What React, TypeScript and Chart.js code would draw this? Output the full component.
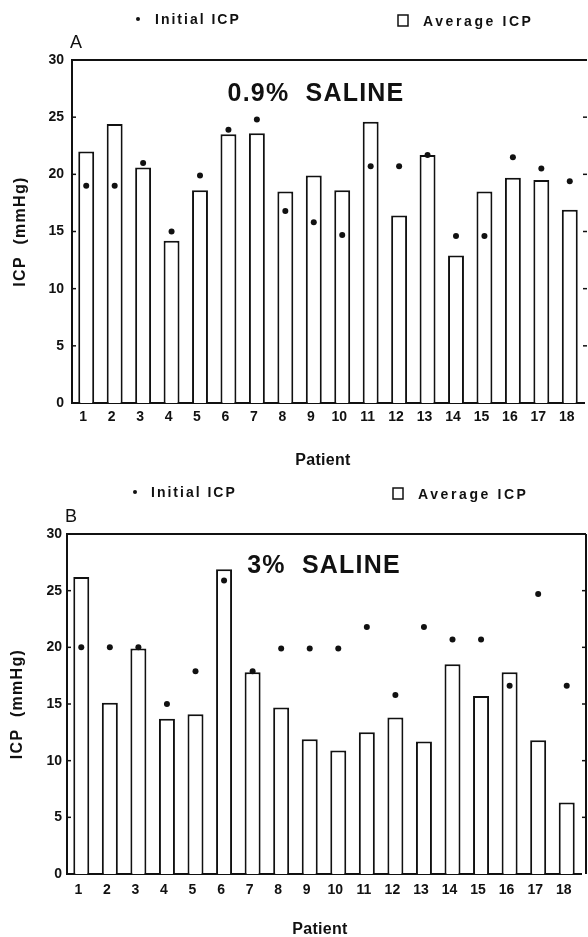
import React, { useEffect, useRef } from "react";
import { Chart, registerables } from "chart.js";

Chart.register(...registerables);

const patients = ["1", "2", "3", "4", "5", "6", "7", "8", "9", "10", "11", "12", "13", "14", "15", "16", "17", "18"];

// Panel A: 0.9% saline
const salineAverage = [22, 24.4, 20.6, 14.2, 18.6, 23.5, 23.6, 18.5, 19.9, 18.6, 24.6, 16.4, 21.7, 12.9, 18.5, 19.7, 19.5, 16.9];
const salineInitial = [19, 19, 21, 15, 19.9, 23.9, 24.8, 16.8, 15.8, 14.7, 20.7, 20.7, 21.7, 14.6, 14.6, 21.5, 20.5, 19.4];

// Panel B: 3% saline
const hypertonicAverage = [26.2, 15.1, 19.9, 13.7, 14.1, 26.9, 17.8, 14.7, 11.9, 10.9, 12.5, 13.8, 11.7, 18.5, 15.7, 17.8, 11.8, 6.3];
const hypertonicInitial = [20, 20, 20, 15, 17.9, 25.9, 17.9, 19.9, 19.9, 19.9, 21.8, 15.8, 21.8, 20.7, 20.7, 16.6, 24.7, 16.6];

const yMin = 0;
const yMax = 30;
const yStep = 5;

const xTitle = "Patient";
const yTitle = "ICP  (mmHg)";
const legendInitial = "Initial ICP";
const legendAverage = "Average ICP";

const FONT = "'Liberation Sans', Arial, Helvetica, sans-serif";
const INK = "#111";

type PanelCfg = {
  letter: string;
  title: string;
  average: number[];
  initial: number[];
  height: number;
  padTop: number;
  yWidth: number;
  xHeight: number;
  padRight: number;
  titleX: number;
  titleY: number;
  letterX: number;
  letterY: number;
  dotX: number;
  legendY: number;
  initTextX: number;
  boxX: number;
  avgTextX: number;
  rightBorder: boolean;
  frameRight: number;
  xTickPad: number;
  yTickPad: number;
  xTitleX: number;
  xTitleY: number;
  yTitleX: number;
};

const panelA: PanelCfg = {
  letter: "A",
  title: "0.9%  SALINE",
  average: salineAverage,
  initial: salineInitial,
  height: 470,
  padTop: 60,
  yWidth: 72,
  xHeight: 67,
  padRight: 1,
  titleX: 316,
  titleY: 101,
  letterX: 70,
  letterY: 48,
  dotX: 138,
  legendY: 19,
  initTextX: 155,
  boxX: 398,
  avgTextX: 423,
  rightBorder: false,
  frameRight: 587,
  xTickPad: 6,
  yTickPad: 8,
  xTitleX: 323,
  xTitleY: 465,
  yTitleX: 25,
};

const panelB: PanelCfg = {
  letter: "B",
  title: "3%  SALINE",
  average: hypertonicAverage,
  initial: hypertonicInitial,
  height: 467,
  padTop: 64,
  yWidth: 67,
  xHeight: 63,
  padRight: 7,
  titleX: 324,
  titleY: 103,
  letterX: 65,
  letterY: 52,
  dotX: 135,
  legendY: 22,
  initTextX: 151,
  boxX: 393,
  avgTextX: 418,
  rightBorder: true,
  frameRight: 586,
  xTickPad: 8,
  yTickPad: 5,
  xTitleX: 320,
  xTitleY: 464,
  yTitleX: 22,
};

function makeFramePlugin(cfg: PanelCfg) {
  return {
    id: "frameAndText",
    afterDraw(chart: any) {
      const ctx: CanvasRenderingContext2D = chart.ctx;
      const { left, top, bottom } = chart.chartArea;
      const yScale = chart.scales.y;
      ctx.save();
      ctx.strokeStyle = INK;
      ctx.lineWidth = 2;
      // top frame line
      ctx.beginPath();
      ctx.moveTo(left - 1, top);
      ctx.lineTo(cfg.frameRight, top);
      ctx.stroke();
      if (cfg.rightBorder) {
        ctx.beginPath();
        ctx.moveTo(cfg.frameRight, top);
        ctx.lineTo(cfg.frameRight, bottom);
        ctx.stroke();
      }
      // inward ticks
      ctx.lineWidth = 1.5;
      yScale.ticks.forEach((t: any) => {
        const y = yScale.getPixelForValue(t.value);
        if (t.value === yMin) return;
        ctx.beginPath();
        ctx.moveTo(left, y);
        ctx.lineTo(left + 4, y);
        ctx.stroke();
        if (t.value !== yMax) {
          ctx.beginPath();
          ctx.moveTo(cfg.frameRight, y);
          ctx.lineTo(cfg.frameRight - 4, y);
          ctx.stroke();
        }
      });

      ctx.fillStyle = INK;
      const c: any = ctx;

      // panel letter
      ctx.textBaseline = "alphabetic";
      ctx.textAlign = "left";
      ctx.font = `18px ${FONT}`;
      c.letterSpacing = "0px";
      ctx.fillText(cfg.letter, cfg.letterX, cfg.letterY);

      // inner title
      ctx.textAlign = "center";
      ctx.font = `bold 25px ${FONT}`;
      c.letterSpacing = "1.2px";
      ctx.fillText(cfg.title, cfg.titleX, cfg.titleY);

      // axis titles
      ctx.font = `bold 16px ${FONT}`;
      c.letterSpacing = "0.3px";
      ctx.fillText(xTitle, cfg.xTitleX, cfg.xTitleY);
      ctx.save();
      ctx.translate(cfg.yTitleX, (top + bottom) / 2);
      ctx.rotate(-Math.PI / 2);
      c.letterSpacing = "1.3px";
      ctx.fillText(yTitle, 0, 0);
      ctx.restore();

      // legend
      ctx.textAlign = "left";
      ctx.textBaseline = "middle";
      ctx.font = `bold 14px ${FONT}`;
      ctx.beginPath();
      ctx.arc(cfg.dotX, cfg.legendY, 2, 0, Math.PI * 2);
      ctx.fill();
      c.letterSpacing = "2px";
      ctx.fillText(legendInitial, cfg.initTextX, cfg.legendY + 1);
      ctx.lineWidth = 1.5;
      ctx.strokeRect(cfg.boxX, cfg.legendY - 4, 10, 11);
      c.letterSpacing = "2.6px";
      ctx.fillText(legendAverage, cfg.avgTextX, cfg.legendY + 3);
      ctx.restore();
    },
  };
}

function Panel({ cfg }: { cfg: PanelCfg }) {
  const ref = useRef<HTMLCanvasElement | null>(null);
  useEffect(() => {
    if (!ref.current) return;
    const chart = new Chart(ref.current, {
      type: "bar",
      data: {
        labels: patients,
        datasets: [
          {
            type: "bar",
            label: legendAverage,
            data: cfg.average,
            backgroundColor: "#ffffff",
            borderColor: INK,
            borderWidth: 2,
            categoryPercentage: 1,
            barPercentage: 0.56,
            order: 2,
          },
          {
            type: "line",
            label: legendInitial,
            data: cfg.initial,
            showLine: false,
            pointRadius: 3,
            pointBackgroundColor: INK,
            pointBorderColor: INK,
            pointBorderWidth: 0,
            order: 1,
          },
        ],
      } as any,
      options: {
        responsive: false,
        animation: false,
        events: [],
        layout: { padding: { top: cfg.padTop, right: cfg.padRight, left: 0, bottom: 0 } },
        plugins: {
          legend: { display: false },
          tooltip: { enabled: false },
          title: { display: false },
        },
        scales: {
          x: {
            type: "category",
            offset: true,
            grid: { display: false, drawTicks: false },
            border: { display: true, color: INK, width: 2 },
            ticks: {
              color: INK,
              font: { family: FONT, size: 14, weight: "bold" },
              padding: cfg.xTickPad,
              labelOffset: -3,
              autoSkip: false,
              maxRotation: 0,
            },
            title: { display: false },
            afterFit: (s: any) => {
              s.height = cfg.xHeight;
            },
          },
          y: {
            min: yMin,
            max: yMax,
            grid: { display: false, drawTicks: false },
            border: { display: true, color: INK, width: 2 },
            ticks: {
              stepSize: yStep,
              color: INK,
              font: { family: FONT, size: 14, weight: "bold" },
              padding: cfg.yTickPad,
            },
            title: { display: false },
            afterFit: (s: any) => {
              s.width = cfg.yWidth;
            },
          },
        },
      } as any,
      plugins: [makeFramePlugin(cfg)],
    });
    return () => chart.destroy();
  }, [cfg]);
  return (
    <canvas
      ref={ref}
      width={588}
      height={cfg.height}
      style={{ display: "block", width: 588, height: cfg.height }}
    />
  );
}

export default function App() {
  return (
    <div style={{ position: "absolute", left: 0, top: 0, width: 588, height: 937, background: "#fff" }}>
      <Panel cfg={panelA} />
      <Panel cfg={panelB} />
    </div>
  );
}
